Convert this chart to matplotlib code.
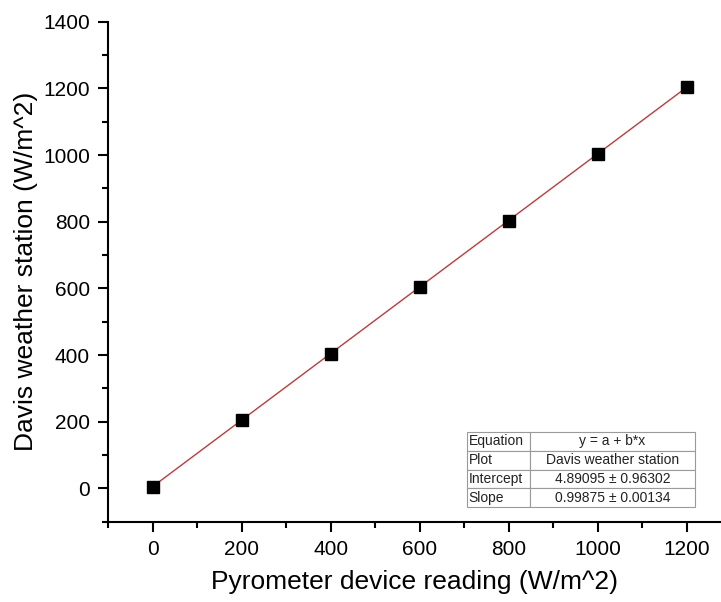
import matplotlib
matplotlib.use("Agg")
import matplotlib.pyplot as plt
import numpy as np
from matplotlib.ticker import MultipleLocator

plt.rcParams['font.family'] = ['Liberation Sans', 'DejaVu Sans']

# Measured irradiance: pyrometer vs. Davis weather station
pyrometer = [0, 200, 400, 600, 800, 1000, 1200]
davis = [5, 205, 403, 604, 803, 1003, 1205]

# Linear fit parameters (y = a + b*x)
intercept, intercept_err = 4.89095, 0.96302
slope, slope_err = 0.99875, 0.00134

table_rows = [
    ["Equation", "y = a + b*x"],
    ["Plot", "Davis weather station"],
    ["Intercept", f"{intercept:.5f} \u00b1 {intercept_err:.5f}"],
    ["Slope", f"{slope:.5f} \u00b1 {slope_err:.5f}"],
]

fig = plt.figure(figsize=(7.21, 6.02), dpi=100)
ax = fig.add_axes([108 / 721, 80.3 / 602, 613 / 721, 500 / 602])

xfit = np.array([min(pyrometer), max(pyrometer)])
ax.plot(xfit, intercept + slope * xfit, color='#c0393b', lw=1.0, zorder=2)
ax.plot(pyrometer, davis, 's', color='black', ms=8.5, zorder=3)

ax.set_xlim(-100, 1277)
ax.set_ylim(-100, 1400)
ax.xaxis.set_major_locator(MultipleLocator(200))
ax.xaxis.set_minor_locator(MultipleLocator(100))
ax.yaxis.set_major_locator(MultipleLocator(200))
ax.yaxis.set_minor_locator(MultipleLocator(100))

for s in ['top', 'right']:
    ax.spines[s].set_visible(False)
for s in ['left', 'bottom']:
    ax.spines[s].set_linewidth(1.5)

ax.tick_params(which='major', direction='out', length=7, width=1.5, labelsize=15, pad=6)
ax.tick_params(which='minor', direction='out', length=4, width=1.5)
ax.set_xticks([t for t in range(0, 1201, 200)])
ax.set_yticks([t for t in range(0, 1401, 200)])

ax.set_xlabel("Pyrometer device reading (W/m^2)", fontsize=19, labelpad=8)
ax.set_ylabel("Davis weather station (W/m^2)", fontsize=19, labelpad=4)

tbl = ax.table(cellText=table_rows, colWidths=[63.3, 165],
               bbox=[0.585, 0.0288, 0.3724, 0.151], cellLoc='center')
tbl.auto_set_font_size(False)
tbl.set_fontsize(10)
for (r, c), cell in tbl.get_celld().items():
    cell.set_edgecolor('#9a9a9a')
    cell.set_linewidth(0.8)
    cell.get_text().set_color('#222222')
    if c == 0:
        cell.set_text_props(ha='left')
        cell.PAD = 0.03

fig.savefig("out.png", dpi=100)
